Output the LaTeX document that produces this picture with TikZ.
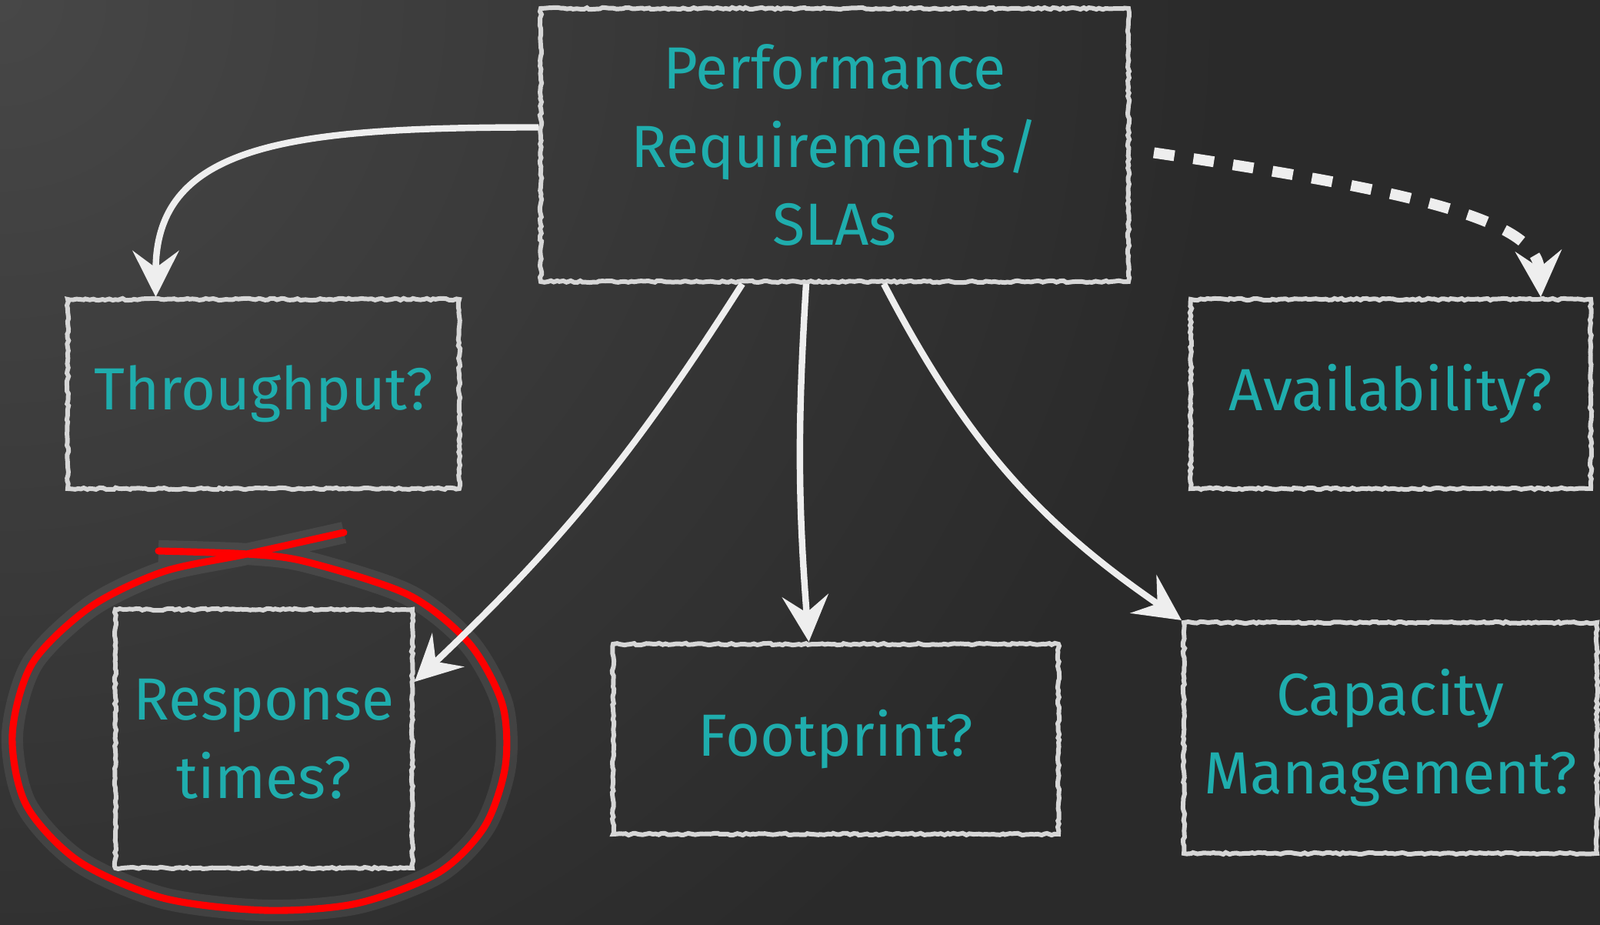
\documentclass[tikz,border=0pt]{standalone}
\usepackage{fontspec}
\setmainfont{Fira Sans}
\usepackage{tikz}
\usetikzlibrary{arrows.meta,decorations.pathmorphing}

\definecolor{board}{HTML}{2A2A2A}
\definecolor{boardlight}{HTML}{474747}
\definecolor{chalk}{HTML}{D6D6D6}
\definecolor{chalkarrow}{HTML}{EEEEEE}
\definecolor{tealtext}{HTML}{1FADAD}
\definecolor{markred}{HTML}{FF0000}

\begin{document}
\begin{tikzpicture}[
  font=\fontsize{22}{29}\selectfont,
  box/.style={draw=chalk, line width=1.7pt, align=center, text=tealtext, inner sep=0pt, decorate, decoration={random steps, segment length=1.2pt, amplitude=0.35pt}},
  arr/.style={draw=chalkarrow, line width=2.4pt, -{Stealth[length=6mm, width=6mm, inset=2.2mm]}},
  dasharr/.style={arr, line width=4pt, dash pattern=on 2.7mm off 2.5mm},
  ring/.style={draw=markred, line width=2.6pt, line cap=round, line join=round, preaction={draw=white, opacity=0.08, line width=8pt}},
]
% --- Board ---
\useasboundingbox (0,0) rectangle (20.8,12.02);
\fill[board] (0,0) rectangle (20.8,12.02);
\begin{scope}
  \clip (0,0) rectangle (20.8,12.02);
  \shade[inner color=boardlight, outer color=board] (0,12.02) circle (16);
\end{scope}

% --- Boxes ---
\node[box, minimum width=7.64cm, minimum height=3.55cm] (sla) at (10.85,10.135) {Performance\\Requirements/\\SLAs};
\node[box, minimum width=5.09cm, minimum height=2.46cm] (thr) at (3.425,6.90) {Throughput?};
\node[box, minimum width=5.20cm, minimum height=2.46cm] (avl) at (18.08,6.90) {Availability?};
\node[box, minimum width=3.86cm, minimum height=3.36cm] (rsp) at (3.43,2.42) {Response\\times?};
\node[box, minimum width=5.79cm, minimum height=2.47cm] (ftp) at (10.865,2.415) {Footprint?};
\node[box, minimum width=5.37cm, minimum height=3.00cm] (cap) at (18.075,2.43) {Capacity\\Management?};

% --- Red ring ---
\draw[ring] plot[smooth] coordinates {(2.06,4.86) (3.21,4.82) (3.98,4.72) (5.31,4.29) (6.10,3.66) (6.53,2.87) (6.57,2.07) (6.30,1.28) (5.70,0.68) (4.64,0.28) (3.45,0.19) (2.12,0.35) (1.02,0.83) (0.34,1.56) (0.16,2.47) (0.42,3.40) (1.17,4.13) (2.12,4.59) (3.21,4.82) (4.47,5.10)};

% --- Arrows ---
\draw[arr] ([yshift=2.3mm]sla.west) .. controls +(-3.2,0) and +(0,2) .. ([xshift=-1.4cm]thr.north);
\draw[dasharr] ([xshift=3mm,yshift=-1mm]sla.east) .. controls +(3.4,-0.5) and +(-0.05,1.0) .. ([xshift=1.95cm]avl.north);
\draw[arr] ([xshift=-1.2cm]sla.south) to[bend left=7] ([yshift=7.4mm]rsp.east);
\draw[arr] ([xshift=-0.37cm]sla.south) to[bend right=4] ([xshift=-0.35cm]ftp.north);
\draw[arr] ([xshift=0.64cm]sla.south) to[bend right=14] (cap.north west);
\end{tikzpicture}
\end{document}
